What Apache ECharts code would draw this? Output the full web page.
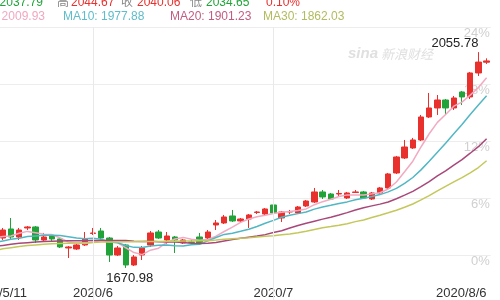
<!DOCTYPE html>
<html>
<head>
<meta charset="utf-8">
<script src="https://cdn.jsdelivr.net/npm/echarts@6/dist/echarts.min.js"></script>
<style>
  html, body { margin: 0; padding: 0; background: #fff; }
  #chart { width: 500px; height: 300px; }
</style>
</head>
<body>
<div id="chart"></div>
<script>
// Trading days shown on the chart
const dates = [
  '2020/5/11','2020/5/12','2020/5/13','2020/5/14','2020/5/15','2020/5/18','2020/5/19','2020/5/20','2020/5/21','2020/5/22',
  '2020/5/25','2020/5/26','2020/5/27','2020/5/28','2020/5/29',
  '2020/6/1','2020/6/2','2020/6/3','2020/6/4','2020/6/5','2020/6/8','2020/6/9','2020/6/10','2020/6/11','2020/6/12',
  '2020/6/15','2020/6/16','2020/6/17','2020/6/18','2020/6/19','2020/6/22','2020/6/23','2020/6/24','2020/6/25','2020/6/26',
  '2020/6/29','2020/6/30',
  '2020/7/1','2020/7/2','2020/7/3','2020/7/6','2020/7/7','2020/7/8','2020/7/9','2020/7/10','2020/7/13','2020/7/14',
  '2020/7/15','2020/7/16','2020/7/17','2020/7/20','2020/7/21','2020/7/22','2020/7/23','2020/7/24','2020/7/27','2020/7/28',
  '2020/7/29','2020/7/30','2020/7/31',
  '2020/8/3','2020/8/4','2020/8/5','2020/8/6'
];

// Daily prices
const openPrices = [
  1711.9,1720.8,1713.7,1727.9,1724.3,1740.4,1726.1,1742.2,1744.0,1720.8,
  1727.9,1722.6,1706.5,1704.7,1711.9,1732.4,1736.8,1724.3,1694.0,1711.9,
  1676.2,1694.0,1711.9,1735.0,1720.8,1726.1,1715.4,1717.2,1726.1,1724.3,
  1747.5,1751.1,1763.6,1754.7,1758.2,1769.8,1767.1,1783.2,1760.0,1770.7,
  1768.9,1781.4,1788.5,1806.4,1802.8,1802.8,1795.7,1805.5,1806.4,1793.9,
  1804.6,1813.5,1840.3,1867.0,1884.8,1899.1,1940.1,1956.2,1970.4,1956.2,
  1984.7,1975.8,2018.6,2037.79
];
const closePrices = [
  1720.8,1713.7,1727.9,1733.3,1738.6,1726.1,1738.6,1744.0,1720.8,1726.1,
  1722.6,1708.3,1708.3,1711.9,1722.6,1733.3,1724.3,1694.0,1706.5,1676.2,
  1690.5,1706.5,1733.3,1724.3,1727.9,1720.8,1720.8,1716.3,1715.4,1735.0,
  1751.1,1761.8,1754.7,1758.2,1765.4,1770.7,1776.1,1768.9,1770.7,1771.6,
  1779.6,1790.3,1806.4,1797.5,1793.9,1803.7,1804.6,1806.4,1795.7,1804.6,
  1813.5,1838.5,1868.8,1886.6,1899.1,1940.1,1956.2,1970.4,1956.2,1974.0,
  1975.8,2018.6,2038.02,2040.06
];
const lowPrices = [
  1706.5,1708.3,1710.1,1722.6,1720.8,1720.8,1720.8,1738.6,1715.4,1719.0,
  1719.0,1706.5,1688.7,1703.0,1710.1,1729.7,1720.8,1681.6,1692.3,1670.98,
  1674.4,1685.1,1708.3,1722.6,1713.7,1697.6,1713.7,1711.9,1711.9,1722.6,
  1738.6,1749.3,1752.9,1751.1,1742.2,1767.1,1765.4,1767.1,1752.9,1767.1,
  1767.1,1779.6,1786.8,1793.9,1792.1,1799.2,1793.9,1804.6,1793.9,1792.1,
  1802.8,1811.7,1838.5,1865.2,1883.1,1897.3,1938.3,1943.7,1943.7,1952.6,
  1961.5,1972.2,2013.2,2034.65
];
const highPrices = [
  1726.1,1724.3,1731.5,1736.8,1742.2,1760.0,1742.2,1745.7,1745.7,1733.3,
  1729.7,1724.3,1710.1,1713.7,1735.0,1742.2,1742.2,1726.1,1710.1,1713.7,
  1694.0,1710.1,1736.8,1738.6,1735.0,1727.9,1722.6,1720.8,1733.3,1738.6,
  1756.4,1765.4,1774.3,1760.0,1767.1,1772.5,1777.8,1788.5,1772.5,1774.3,
  1781.4,1792.1,1813.5,1809.9,1804.6,1809.9,1806.4,1809.9,1808.2,1806.4,
  1815.3,1840.3,1870.6,1899.1,1902.7,1943.7,1982.9,1979.3,1972.2,1977.6,
  1986.5,2020.4,2055.78,2044.67
];

// Moving averages
const ma5 = [
  1720,1719,1721,1724,1726.9,1727.9,1732.9,1736.1,1733.6,1731.1,
  1730.4,1724.4,1717.2,1715.4,1714.7,1716.9,1720.1,1717.2,1716.1,1706.9,
  1698.3,1694.7,1702.6,1706.2,1716.5,1722.6,1725.4,1722.0,1720.2,1721.7,
  1727.7,1735.9,1743.6,1752.2,1758.2,1762.2,1765.0,1767.9,1770.4,1771.6,
  1773.4,1776.2,1783.7,1789.1,1793.5,1798.4,1801.2,1801.2,1800.9,1803.0,
  1805.0,1811.7,1824.2,1842.4,1861.3,1886.6,1910.2,1930.5,1944.4,1959.4,
  1966.5,1979.0,1992.5,2009.93
];
const ma10 = [
  1708,1710,1713,1716,1719,1722,1724,1727,1728,1729.0,
  1729.2,1728.6,1726.7,1724.5,1722.9,1723.7,1722.2,1717.2,1715.8,1710.8,
  1707.6,1707.4,1709.9,1711.2,1711.7,1710.4,1710.1,1712.3,1713.2,1719.1,
  1725.1,1730.7,1732.8,1736.2,1740.0,1744.9,1750.5,1755.7,1761.3,1764.9,
  1767.8,1770.6,1775.8,1779.7,1782.6,1785.9,1788.7,1792.5,1795.0,1798.3,
  1801.7,1806.5,1812.7,1821.6,1832.2,1845.8,1861.0,1877.4,1893.4,1910.3,
  1926.6,1944.6,1961.5,1977.88
];
const ma20 = [
  1703,1705,1707,1709,1711,1713,1715,1716,1717,1718,
  1718.5,1719,1719.2,1719.4,1719.6,1719.8,1720,1720,1720,1719.9,
  1718.4,1718.0,1718.3,1717.8,1717.3,1717.0,1716.2,1714.8,1714.5,1714.9,
  1716.4,1719.0,1721.4,1723.7,1725.8,1727.7,1730.3,1734.0,1737.2,1742.0,
  1746.5,1750.6,1754.3,1758.0,1761.3,1765.4,1769.6,1774.1,1778.1,1781.6,
  1784.7,1788.6,1794.3,1800.7,1807.4,1815.8,1824.8,1834.9,1844.2,1854.3,
  1864.1,1875.5,1887.1,1901.23
];
const ma30 = [
  1693,1696,1699,1702,1705,1707,1709,1711,1712,1713,
  1714,1714.5,1715,1715.5,1716,1716.5,1717,1717,1717,1717.5,
  1717.5,1718,1718,1718,1718.5,1718.5,1719,1719,1719.3,1719.6,
  1720.6,1722.2,1723.1,1724.0,1724.9,1726.3,1727.6,1728.4,1730.1,1731.6,
  1733.5,1736.2,1739.5,1742.4,1744.7,1747.1,1749.8,1753.5,1756.5,1760.8,
  1764.9,1769.3,1773.8,1779.2,1784.9,1792.2,1800.0,1808.5,1816.5,1824.5,
  1832.0,1840.6,1850.0,1862.03
];

// Date axis labels and month separators
const xTickDates = ['2020/5/11', '2020/6/1', '2020/7/1', '2020/8/6'];
const xTickLabels = ['2020/5/11', '2020/6', '2020/7', '2020/8/6'];
const monthStarts = ['2020/6/1', '2020/7/1'];

// Percentage scale on the right (relative to the base price)
const pctBase = 1694;
const pctMin = -6, pctMax = 24, pctStep = 6;

const prevClose = closePrices[closePrices.length - 2];

const UP = '#e8302c', DOWN = '#22a33a';
const FONT = '"Liberation Sans", Arial, "Noto Sans CJK SC", sans-serif';
const last = dates.length - 1;

const candleData = dates.map((d, i) => [openPrices[i], closePrices[i], lowPrices[i], highPrices[i]]);
const changePct = (closePrices[last] / prevClose - 1) * 100;
const colorFor = v => (v >= prevClose ? UP : DOWN);

function txt(text, x, y, fill, align) {
  return {
    type: 'text', x: x, y: y, silent: true, z: 10,
    style: { text: text, fill: fill, font: '12px ' + FONT, align: align || 'left', verticalAlign: 'middle' }
  };
}

const chart = echarts.init(document.getElementById('chart'), null, { renderer: 'canvas' });
chart.setOption({
  animation: false,
  backgroundColor: '#fff',
  grid: { left: -34.1, right: 9.3, top: 27, bottom: -12, outerBoundsMode: 'none', containLabel: false },
  xAxis: {
    type: 'category',
    data: dates,
    boundaryGap: true,
    offset: -28,
    axisLine: { show: false },
    axisTick: { show: false },
    splitLine: { show: false },
    axisLabel: {
      interval: (idx, val) => xTickDates.indexOf(val) >= 0,
      formatter: val => xTickLabels[xTickDates.indexOf(val)],
      color: '#333',
      fontSize: 13,
      fontFamily: FONT,
      margin: 3,
      alignMinLabel: 'left',
      alignMaxLabel: 'right'
    }
  },
  yAxis: [
    {
      type: 'value',
      min: pctBase * (1 + pctMin / 100),
      max: pctBase * (1 + pctMax / 100),
      show: false
    },
    {
      type: 'value',
      position: 'right',
      min: pctMin, max: pctMax, interval: pctStep,
      axisLine: { show: false },
      axisTick: { show: false },
      axisLabel: {
        inside: true,
        margin: 1,
        formatter: '{value}%',
        color: '#d0d0d0',
        fontSize: 13,
        fontFamily: FONT,
        verticalAlign: 'top'
      },
      splitLine: { lineStyle: { color: '#ededed', width: 1 } }
    }
  ],
  series: [
    {
      type: 'candlestick',
      yAxisIndex: 0,
      data: candleData,
      barWidth: 6,
      clip: false,
      itemStyle: { color: UP, color0: DOWN, borderColor: UP, borderColor0: DOWN, borderWidth: 1 },
      markPoint: {
        symbol: 'circle',
        symbolSize: 1,
        itemStyle: { color: 'rgba(0,0,0,0)' },
        data: [
          {
            type: 'max', valueDim: 'highest',
            label: { position: 'top', align: 'right', distance: 2, offset: [0, 0] }
          },
          {
            type: 'min', valueDim: 'lowest',
            label: { position: 'bottom', distance: 4, offset: [4, 0] }
          }
        ],
        label: {
          color: '#222', fontSize: 13, fontFamily: FONT,
          formatter: p => Number(p.value).toFixed(2)
        }
      },
      markLine: {
        silent: true,
        symbol: ['none', 'none'],
        label: { show: false },
        lineStyle: { color: '#e9e9e9', type: 'solid', width: 1 },
        data: monthStarts.map(d => ({ xAxis: d }))
      }
    },
    { name: 'MA5', type: 'line', data: ma5, showSymbol: false, lineStyle: { color: '#f2aac2', width: 1.5 }, z: 3 },
    { name: 'MA10', type: 'line', data: ma10, showSymbol: false, lineStyle: { color: '#52b7c4', width: 1.5 }, z: 3 },
    { name: 'MA20', type: 'line', data: ma20, showSymbol: false, lineStyle: { color: '#a8487a', width: 1.5 }, z: 3 },
    { name: 'MA30', type: 'line', data: ma30, showSymbol: false, lineStyle: { color: '#c4c85a', width: 1.5 }, z: 3 }
  ],
  graphic: [
    // quote line
    txt('开 ' + openPrices[last].toFixed(2), 43, 3, colorFor(openPrices[last]), 'right'),
    txt('高', 57, 3, '#888'),
    txt(highPrices[last].toFixed(2), 71, 3, colorFor(highPrices[last])),
    txt('收', 121, 3, '#888'),
    txt(closePrices[last].toFixed(2), 137, 3, colorFor(closePrices[last])),
    txt('低', 190, 3, '#888'),
    txt(lowPrices[last].toFixed(2), 206, 3, colorFor(lowPrices[last])),
    txt(changePct.toFixed(2) + '%', 266, 3, changePct >= 0 ? UP : DOWN),
    // moving average readout
    txt('MA5: ' + ma5[last].toFixed(2), 45, 17, '#f0a8c0', 'right'),
    txt('MA10: ' + ma10[last].toFixed(2), 63, 17, '#5fbccb'),
    txt('MA20: ' + ma20[last].toFixed(2), 170, 17, '#c25c80'),
    txt('MA30: ' + ma30[last].toFixed(2), 263, 17, '#b2bb5e'),
    // watermark
    {
      type: 'text', x: 348, y: 54, silent: true, z: 1,
      style: { text: 'sina', fill: '#e0e0e0', font: 'italic bold 15px ' + FONT, verticalAlign: 'middle' }
    },
    {
      type: 'text', x: 381, y: 54, silent: true, z: 1,
      style: { text: '新浪财经', fill: '#e0e0e0', font: 'italic 13px "Noto Sans CJK SC", sans-serif', verticalAlign: 'middle' }
    }
  ]
});
</script>
</body>
</html>
